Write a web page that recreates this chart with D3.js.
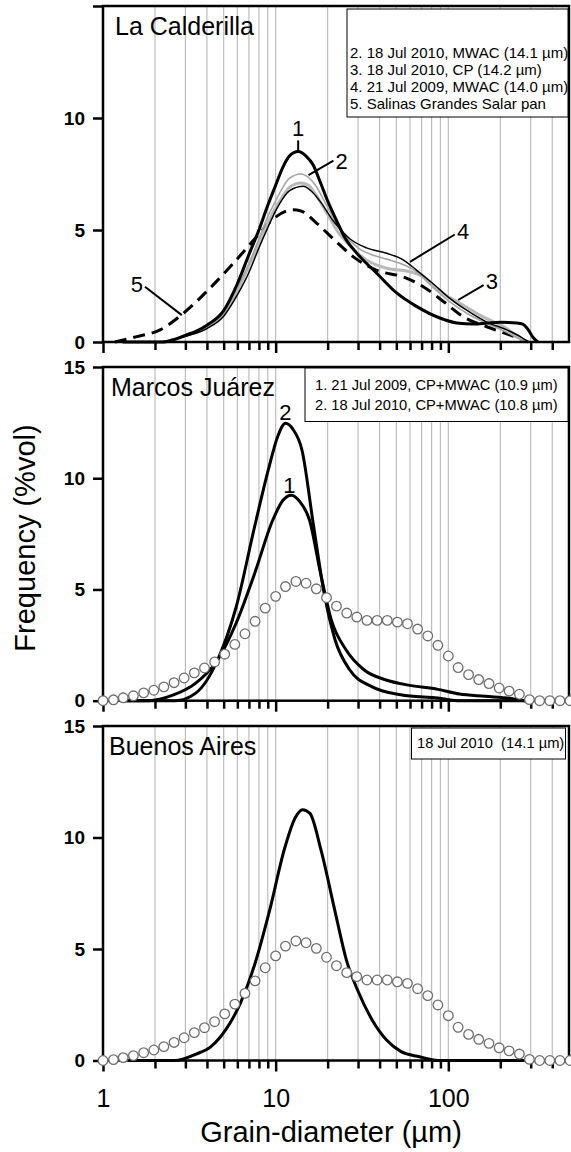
<!DOCTYPE html>
<html>
<head>
<meta charset="utf-8">
<script src="https://cdn.jsdelivr.net/npm/d3@7"></script>
<style>
body { margin: 0; background: #fff; }
svg { display: block; font-family: "Liberation Sans", Arial, sans-serif; }
.grid { stroke: #bdbdbd; stroke-width: 1.2; }
.curve { fill: none; stroke-linejoin: round; }
</style>
</head>
<body>
<svg width="571" height="1152"></svg>
<script>
var svg = d3.select('svg');
var width = +svg.attr('width'),
    height = +svg.attr('height');

// grid / tick positions (grain diameter, um)
var gridSizes = [2, 3, 4, 5, 6, 7, 8, 9, 10, 20, 30, 40, 50, 60, 70, 80, 90, 100, 200, 300, 400];
var minorSizes = [2, 3, 4, 5, 6, 7, 8, 9, 20, 30, 40, 50, 60, 70, 80, 90, 200, 300, 400];
var majorSizes = [1, 10, 100];
var freqTicks = [0, 5, 10, 15];

// La Calderilla: [diameter, %vol]
var lc1 = [[1.3,0],[2.2,0],[2.6,0.12],[3,0.3],[3.5,0.5],[4,0.75],[5,1.4],[6,2.6],[7,3.9],[8,5.0],[9,6.1],[10,7.0],[11,7.8],[12,8.3],[13.5,8.5],[15,8.3],[16.5,7.9],[18,7.2],[20,6.3],[22.6,5.4],[25,4.7],[30,3.9],[38.5,3.07],[50,2.2],[65,1.6],[90,1.06],[112,0.85],[140,0.8],[170,0.85],[200,0.88],[250,0.85],[270,0.8],[290,0.55],[310,0.2],[330,0]];
var lc2 = [[2.3,0],[3,0.3],[4,0.7],[5,1.3],[6,2.4],[7,3.5],[8,4.6],[9,5.6],[10,6.3],[11,6.9],[12,7.3],[14,7.5],[15.5,7.35],[17,7.0],[20,6.0],[22.5,5.3],[25,4.8],[30,4.2],[36,3.9],[44,3.7],[55,3.45],[65,3.15],[80,2.5],[100,1.85],[130,1.25],[170,0.8],[220,0.42],[260,0.12],[285,0]];
var lc3 = [[2.3,0],[3,0.28],[4,0.65],[5,1.25],[6,2.3],[7,3.4],[8,4.4],[9,5.3],[10,6.0],[11,6.5],[12,6.9],[14,7.1],[15.5,7.0],[17,6.6],[20,5.7],[23,4.9],[27,4.3],[33.6,3.66],[44,3.29],[60,3.14],[72,2.9],[90,2.25],[117,1.73],[158,1.13],[218,0.6],[260,0.17],[285,0]];
var lc4 = [[2.3,0],[3,0.25],[4,0.6],[5,1.15],[6,2.1],[7,3.1],[8,4.2],[9,5.1],[10,5.85],[11,6.4],[12,6.75],[14.5,6.95],[16,6.75],[18,6.3],[21.6,5.4],[27,4.6],[33.6,4.2],[44,3.96],[55,3.66],[65.7,3.2],[81.7,2.6],[102,1.95],[127,1.43],[166,0.9],[218,0.54],[260,0.25],[290,0]];
var lc5 = [[1.17,0],[1.57,0.24],[2.14,0.54],[2.92,1.28],[4.16,2.4],[5.67,3.5],[7.76,4.7],[9.7,5.5],[12.6,5.9],[14,5.85],[17.3,5.3],[21.6,4.6],[28.2,3.8],[38.5,3.2],[55,2.9],[71.6,2.47],[94,1.8],[122,1.13],[167,0.68],[228,0.31],[271,0.09],[290,0]];

// Marcos Juarez
var mj1 = [[1.3,0],[1.82,0],[2.56,0.26],[3.43,0.78],[4.61,1.83],[5.9,3.48],[7.54,5.7],[9.6,8.1],[11,9.0],[12.3,9.24],[13.8,8.95],[15.7,8.12],[18.2,5.72],[21,3.63],[25.6,2.28],[32.6,1.38],[43.6,0.93],[58.8,0.7],[87,0.51],[116,0.3],[164,0.2],[232,0.1],[281,0],[300,0]];
var mj2 = [[1.3,0],[2.62,0],[3.43,0.33],[4.61,1.83],[5.9,4.2],[7.54,7.8],[9.15,10.5],[10.3,11.9],[11.4,12.47],[12.6,12.2],[14.2,11.27],[16.5,7.97],[19.1,4.83],[22.1,2.73],[26.9,1.38],[36,0.63],[53,0.27],[87,0.12],[117,0],[300,0]];

// Buenos Aires
var ba1 = [[1.4,0],[2.59,0],[3.47,0.29],[4.22,0.62],[5.13,1.37],[6.24,2.56],[7.6,4.36],[9.24,6.75],[11.2,9.44],[13,10.9],[14.3,11.25],[15.8,11.08],[18.3,9.44],[22.2,6.6],[25.7,4.5],[29.8,3.16],[36.2,1.82],[43.9,0.92],[53.3,0.4],[68,0.17],[87,0],[300,0]];

// Salinas Grandes reference (open circles)
var refSizes = [1, 1.15, 1.31, 1.50, 1.72, 1.97, 2.25, 2.58, 2.95, 3.38, 3.87, 4.43, 5.07, 5.80, 6.64, 7.60, 8.70, 10, 11.4, 13.1, 15.0, 17.2, 19.7, 22.5, 25.8, 29.5, 33.8, 38.7, 44.3, 50.7, 58.0, 66.4, 76.0, 87.0, 100, 114, 131, 150, 172, 197, 225, 258, 295, 338, 387, 443, 507];
var refFreq = [0, 0.04, 0.13, 0.22, 0.35, 0.47, 0.62, 0.81, 1.02, 1.25, 1.47, 1.74, 2.09, 2.53, 3.01, 3.57, 4.16, 4.69, 5.13, 5.36, 5.28, 5.03, 4.63, 4.25, 3.94, 3.76, 3.61, 3.61, 3.61, 3.53, 3.46, 3.22, 2.91, 2.49, 2.01, 1.49, 1.17, 0.95, 0.77, 0.57, 0.43, 0.29, 0.05, 0, 0, 0, 0];

var lcLegend = ['2. 18 Jul 2010, MWAC (14.1 \u00b5m)', '3. 18 Jul 2010, CP (14.2 \u00b5m)', '4. 21 Jul 2009, MWAC (14.0 \u00b5m)', '5. Salinas Grandes Salar pan'];
var mjLegend = ['1. 21 Jul 2009, CP+MWAC (10.9 \u00b5m)', '2. 18 Jul 2010, CP+MWAC (10.8 \u00b5m)'];
var baLegend = ['18 Jul 2010  (14.1 \u00b5m)'];

// curve labels: text at [d, v], leader from [d, v] to [d, v]
var lcLabels = [
  {t: '1', at: [13.5, 9.2], from: [13.5, 9.0], to: [13.5, 8.5]},
  {t: '2', at: [24.1, 7.72], from: [15.5, 7.45], to: [21.6, 8.1]},
  {t: '4', at: [122, 4.6], from: [60, 3.58], to: [109, 4.8]},
  {t: '3', at: [178.5, 2.37], from: [114, 1.875], to: [160, 2.54]},
  {t: '5', at: [1.57, 2.23], from: [1.75, 2.47], to: [2.86, 1.2]}
];
var mjLabels = [
  {t: '2', at: [11.4, 12.6]},
  {t: '1', at: [12.0, 9.33]}
];

var margin = {left: 103, right: 2};
var x = d3.scaleLog()
    .domain([1, 500])
    .range([margin.left, width - margin.right]);

var panels = [
  {title: 'La Calderilla', top: 6, bottom: 342, titleX: 115,
   curves: [
     {data: lc5, color: 'black', w: 3, dash: '12,7'},
     {data: lc3, color: '#b9b9b9', w: 3},
     {data: lc2, color: '#a5a5a5', w: 1.6},
     {data: lc4, color: 'black', w: 1.5},
     {data: lc1, color: 'black', w: 3}],
   circles: false, labels: lcLabels, hide15: true,
   legend: lcLegend, box: [347, 9, 568, 117], textX: 350, firstBase: 58, lineH: 17, fs: 15},
  {title: 'Marcos Ju\u00e1rez', top: 367, bottom: 700.7, titleX: 111,
   curves: [
     {data: mj1, color: 'black', w: 3},
     {data: mj2, color: 'black', w: 3}],
   circles: true, labels: mjLabels, hide15: false,
   legend: mjLegend, box: [305, 368, 568, 421.5], textX: 315, firstBase: 390, lineH: 20, fs: 14.7},
  {title: 'Buenos Aires', top: 726, bottom: 1060.5, titleX: 109,
   curves: [
     {data: ba1, color: 'black', w: 3}],
   circles: true, labels: [], hide15: false,
   legend: baLegend, box: [411.5, 728, 565.5, 759], textX: 417, firstBase: 748, lineH: 20, fs: 14.7}
];

panels.forEach(function(p, pi) {
  var y = d3.scaleLinear()
      .domain([0, 15])
      .range([p.bottom, p.top]);
  var g = svg.append('g');

  g.selectAll('.grid')
      .data(gridSizes).enter().append('line')
      .attr('class', 'grid')
      .attr('x1', function(d) { return x(d); })
      .attr('x2', function(d) { return x(d); })
      .attr('y1', p.top)
      .attr('y2', p.bottom);

  var line = d3.line()
      .x(function(d) { return x(d[0]); })
      .y(function(d) { return y(d[1]); })
      .curve(d3.curveMonotoneX);

  p.curves.forEach(function(c) {
    g.append('path')
        .datum(c.data)
        .attr('class', 'curve')
        .attr('stroke', c.color)
        .attr('stroke-width', c.w)
        .attr('stroke-dasharray', c.dash || null)
        .attr('d', line);
  });

  // frame
  g.append('rect')
      .attr('x', x(1))
      .attr('y', p.top)
      .attr('width', x(500) - x(1))
      .attr('height', p.bottom - p.top)
      .attr('fill', 'none')
      .attr('stroke', 'black')
      .attr('stroke-width', 2.5);

  // y axis
  var yAxis = d3.axisLeft(y)
      .tickValues(freqTicks)
      .tickSize(10)
      .tickPadding(8)
      .tickFormat(function(d) { return (p.hide15 && d === 15) ? '' : d; });
  var ya = g.append('g')
      .attr('transform', 'translate(' + x(1) + ',0)')
      .call(yAxis);
  ya.select('.domain').remove();
  ya.selectAll('line').attr('stroke-width', 2.5);
  ya.selectAll('text')
      .attr('font-family', '"Liberation Sans", Arial, sans-serif')
      .attr('font-size', 19)
      .attr('font-weight', 'bold')
      .attr('fill', 'black');

  // x axis ticks
  var xMinor = d3.axisBottom(x).tickValues(minorSizes).tickSize(8).tickFormat('');
  var xMajor = d3.axisBottom(x).tickValues(majorSizes).tickSize(11).tickPadding(18)
      .tickFormat(pi === 2 ? function(d) { return d; } : '');
  var xm = g.append('g').attr('transform', 'translate(0,' + p.bottom + ')').call(xMinor);
  var xM = g.append('g').attr('transform', 'translate(0,' + p.bottom + ')').call(xMajor);
  [xm, xM].forEach(function(a) {
    a.select('.domain').remove();
    a.selectAll('line').attr('stroke-width', 2.5);
  });
  xM.selectAll('text')
      .attr('font-family', '"Liberation Sans", Arial, sans-serif')
      .attr('font-size', 25)
      .attr('fill', 'black');

  // reference circles
  if (p.circles) {
    g.selectAll('circle')
        .data(refSizes).enter().append('circle')
        .attr('cx', function(d) { return x(d); })
        .attr('cy', function(d, i) { return y(refFreq[i]); })
        .attr('r', 4.8)
        .attr('fill', 'white')
        .attr('stroke', '#6e6e6e')
        .attr('stroke-width', 1.3);
  }

  // curve labels
  p.labels.forEach(function(l) {
    if (l.from) {
      g.append('line')
          .attr('x1', x(l.from[0])).attr('y1', y(l.from[1]))
          .attr('x2', x(l.to[0])).attr('y2', y(l.to[1]))
          .attr('stroke', 'black')
          .attr('stroke-width', 2);
    }
    g.append('text')
        .attr('x', x(l.at[0]))
        .attr('y', y(l.at[1]))
        .attr('text-anchor', 'middle')
        .attr('font-size', 22)
        .text(l.t);
  });

  // title
  g.append('text')
      .attr('x', p.titleX)
      .attr('y', p.top + 29)
      .attr('font-size', 25)
      .text(p.title);

  // legend box
  g.append('rect')
      .attr('x', p.box[0])
      .attr('y', p.box[1])
      .attr('width', p.box[2] - p.box[0])
      .attr('height', p.box[3] - p.box[1])
      .attr('fill', 'white')
      .attr('stroke', 'black')
      .attr('stroke-width', 1);
  g.selectAll('.leg')
      .data(p.legend).enter().append('text')
      .attr('class', 'leg')
      .attr('x', p.textX)
      .attr('y', function(d, i) { return p.firstBase + i * p.lineH; })
      .attr('font-size', p.fs)
      .style('white-space', 'pre')
      .text(function(d) { return d; });
});

// axis titles
svg.append('text')
    .attr('transform', 'translate(35,538) rotate(-90)')
    .attr('text-anchor', 'middle')
    .attr('font-size', 29)
    .text('Frequency (%vol)');

svg.append('text')
    .attr('x', 331)
    .attr('y', 1142)
    .attr('text-anchor', 'middle')
    .attr('font-size', 29)
    .text('Grain-diameter (\u00b5m)');
</script>
</body>
</html>
